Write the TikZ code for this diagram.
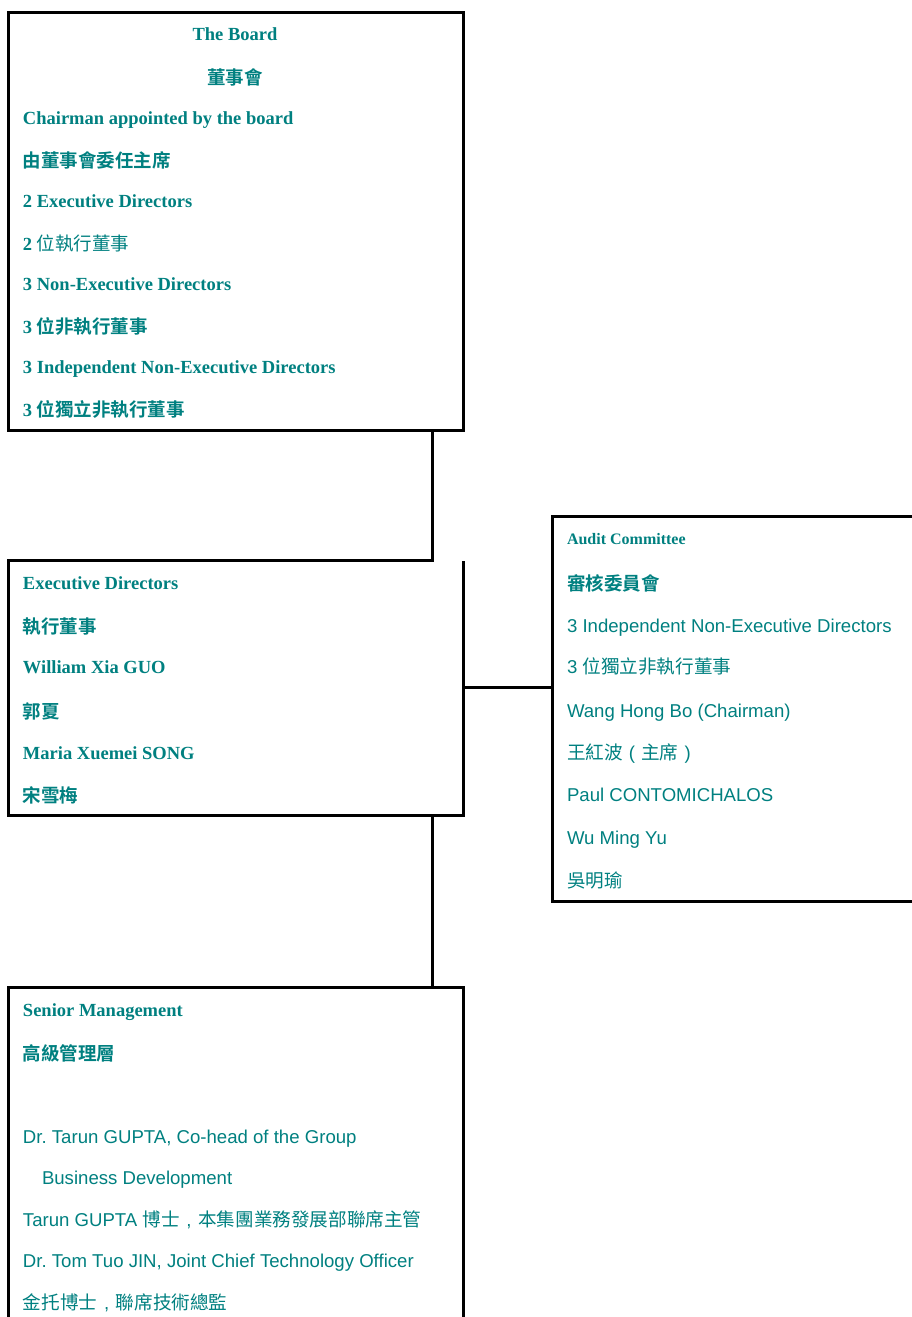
\documentclass[tikz,border=0pt]{standalone}
\usepackage{fontspec}
\setmainfont{Liberation Serif}
\newfontfamily\arial{Liberation Sans}
\newfontfamily\cjk{Noto Sans CJK TC}
\newfontfamily\cjkheavy{Noto Sans CJK TC Black}
\usetikzlibrary{calc}
\definecolor{tealc}{RGB}{0,128,128}
\newcommand\cjb[1]{{\cjkheavy #1}}
\newcommand\cjr[1]{{\cjk\mdseries #1}}
\newcommand\fwcell[1]{\makebox[18.5pt][c]{\arial\mdseries #1}}
\frenchspacing
\begin{document}
\begin{tikzpicture}[x=1pt,y=-1pt,
  area/.style={rectangle, inner sep=0pt, outer sep=0pt},
  framed/.style={area, draw, line width=3pt},
  conn/.style={line width=3pt},
  en/.style={anchor=base west, inner sep=0pt, outer sep=0pt, text=tealc,
     font=\fontsize{18.5}{22}\selectfont\bfseries},
  ensmall/.style={en, font=\fontsize{16}{19}\selectfont\bfseries},
  sans/.style={anchor=base west, inner sep=0pt, outer sep=0pt, text=tealc,
     font=\fontsize{18.6}{22}\selectfont\arial}]
\useasboundingbox (0,0) rectangle (912,1317);
% boxes
\node[framed, minimum width=455pt, minimum height=418pt] (board) at (235.5,221) {};
\node[area, minimum width=455pt, minimum height=254.5pt] (exec) at (235.5,687.75) {};
\node[framed, minimum width=362pt, minimum height=385pt] (audit) at (733,708.5) {};
\node[framed, minimum width=455pt, minimum height=342.5pt] (senior) at (235.5,1158.75) {};
% connectors
\draw[conn] ($(board.south east)+(-31,0)$) |- (exec.north west) -- (exec.south west) -- (exec.south east) -- (exec.north east);
\draw[conn] (exec.east) -- (exec.east -| audit.west);
\draw[conn] ($(exec.south east)+(-31,0)$) -- ($(senior.north east)+(-31,0)$);
% board text
\node[en, anchor=base] (b1) at (235,40) {The Board};
\node[en, anchor=base] (b2) at (235,84) {\cjb{董事會}};
\node[en] (b3) at (23,124) {Chairman appointed by the board};
\node[en] (b4) at (23,167) {\cjb{由董事會委任主席}};
\node[en] (b5) at (23,207) {2 Executive Directors};
\node[en] (b6) at (23,250) {2 \cjr{位執行董事}};
\node[en] (b7) at (23,290) {3 Non-Executive Directors};
\node[en] (b8) at (23,333) {3 \cjb{位非執行董事}};
\node[en] (b9) at (23,373) {3 Independent Non-Executive Directors};
\node[en] (b10) at (23,416) {3 \cjb{位獨立非執行董事}};
% exec text
\node[en] (e1) at (23,589) {Executive Directors};
\node[en] (e2) at (23,633) {\cjb{執行董事}};
\node[en] (e3) at (23,673) {William Xia GUO};
\node[en] (e4) at (23,718) {\cjb{郭夏}};
\node[en] (e5) at (23,759) {Maria Xuemei SONG};
\node[en] (e6) at (23,802) {\cjb{宋雪梅}};
% audit text
\node[ensmall] (a1) at (567,544) {Audit Committee};
\node[en] (a2) at (567,590) {\cjb{審核委員會}};
\node[sans] (a3) at (567,632) {3 Independent Non-Executive Directors};
\node[sans] (a4) at (567,673) {3 \cjr{位獨立非執行董事}};
\node[sans] (a5) at (567,717) {Wang Hong Bo (Chairman)};
\node[sans] (a6) at (567,759) {\cjr{王紅波}\fwcell{(}\cjr{主席}\fwcell{)}};
\node[sans] (a7) at (567,801) {Paul CONTOMICHALOS};
\node[sans] (a8) at (567,844) {Wu Ming Yu};
\node[sans] (a9) at (567,887) {\cjr{吳明瑜}};
% senior text
\node[en] (s1) at (23,1016) {Senior Management};
\node[en] (s2) at (23,1060) {\cjb{高級管理層}};
\node[sans] (s3) at (23,1143) {Dr. Tarun GUPTA, Co-head of the Group};
\node[sans] (s4) at (42,1184) {Business Development};
\node[sans] (s5) at (23,1226) {Tarun GUPTA \cjr{博士}\makebox[18.5pt][c]{,}\cjr{本集團業務發展部聯席主管}};
\node[sans] (s6) at (23,1267) {Dr. Tom Tuo JIN, Joint Chief Technology Officer};
\node[sans] (s7) at (23,1309) {\cjr{金托博士}\makebox[18.5pt][c]{,}\cjr{聯席技術總監}};
\end{tikzpicture}
\end{document}
